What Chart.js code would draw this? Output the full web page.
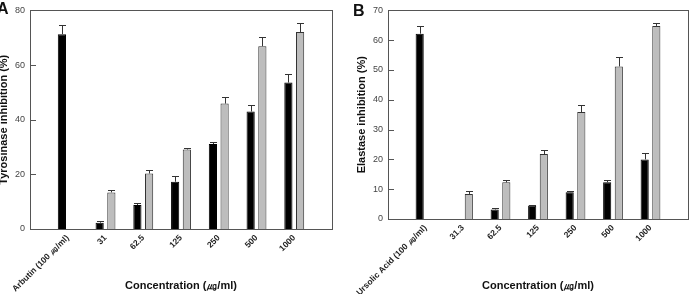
<!DOCTYPE html>
<html lang="en">
<head>
<meta charset="UTF-8">
<title>Inhibition charts</title>
<script src="https://cdn.jsdelivr.net/npm/chart.js"></script>
<style>
  body { margin:0; width:693px; height:294px; background:#fff; position:relative; overflow:hidden; }
  .panel { position:absolute; top:0; height:294px; }
  #wrapA { left:0; width:345px; }
  #wrapB { left:345px; width:348px; }
</style>
</head>
<body>
<div class="panel" id="wrapA"><canvas id="chartA"></canvas></div>
<div class="panel" id="wrapB"><canvas id="chartB"></canvas></div>
<script>
// panel A: tyrosinase
const catsA = ['Arbutin (100 \u338D/ml)', '31', '62.5', '125', '250', '500', '1000'];
const blackA = [71.3, 2.3, 8.8, 17.3, 31.1, 43.0, 53.6];
const blackErrA = [3.2, 0.5, 0.8, 2.1, 0.9, 2.4, 3.1];
const grayA = [null, 13.4, 20.3, 29.1, 45.9, 66.9, 72.1];
const grayErrA = [null, 0.9, 1.2, 0.7, 2.5, 3.2, 3.2];
const yTicksA = [0, 20, 40, 60, 80];

// panel B: elastase
const catsB = ['Ursolic Acid (100 \u338D/ml)', '31.3', '62.5', '125', '250', '500', '1000'];
const blackB = [62.2, null, 3.2, 4.5, 9.0, 12.3, 20.0];
const blackErrB = [2.4, null, 0.6, 0.3, 0.4, 0.8, 2.1];
const grayB = [null, 8.4, 12.3, 21.8, 35.9, 51.2, 64.8];
const grayErrB = [null, 1.1, 0.9, 1.5, 2.2, 3.3, 1.0];
const yTicksB = [0, 10, 20, 30, 40, 50, 60, 70];

const FONT = 'Arial, "Liberation Sans", sans-serif';
const pad = a => [null, ...a, null];   // empty slot at each end of the axis

const framePlugin = {
  id: 'frame',
  afterDatasetsDraw(chart) {
    const ctx = chart.ctx, ys = chart.scales.y;
    ctx.save();
    ctx.strokeStyle = '#333';
    ctx.lineWidth = 1;
    chart.data.datasets.forEach((ds, i) => {
      chart.getDatasetMeta(i).data.forEach((el, j) => {
        const v = ds.data[j], e = ds.errs[j];
        if (v == null || e == null) return;
        const x = Math.round(el.x) + 0.5;
        const top = Math.round(ys.getPixelForValue(v + e)) + 0.5;
        ctx.beginPath();
        ctx.moveTo(x, el.y);
        ctx.lineTo(x, top);
        ctx.moveTo(x - 3.5, top);
        ctx.lineTo(x + 3.5, top);
        ctx.stroke();
      });
    });
    ctx.restore();
  },
  afterDraw(chart, args, opts) {
    const ctx = chart.ctx, a = chart.chartArea, ys = chart.scales.y;
    ctx.save();
    ctx.strokeStyle = '#555';
    ctx.lineWidth = 1;
    ctx.strokeRect(Math.round(a.left) + 0.5, Math.round(a.top) + 0.5,
      Math.round(a.right - a.left), Math.round(a.bottom - a.top));
    // inward tick marks
    ys.ticks.forEach(t => {
      const y = Math.round(ys.getPixelForValue(t.value)) + 0.5;
      ctx.beginPath();
      ctx.moveTo(a.left, y);
      ctx.lineTo(a.left + 6, y);
      ctx.stroke();
    });
    ctx.fillStyle = '#111';
    ctx.font = 'bold 16px ' + FONT;
    ctx.textBaseline = 'top';
    ctx.fillText(opts.letter, opts.lx, opts.ly);
    ctx.restore();
  }
};

function makeChart(id, cats, black, blackErr, gray, grayErr, yMax, yStep, yTitle, yW, xH, padRight, titlePad, letter, lx, ly) {
  return new Chart(document.getElementById(id), {
    type: 'bar',
    data: {
      labels: ['', ...cats, ''],
      datasets: [
        { data: pad(black), errs: pad(blackErr), backgroundColor: '#000', borderColor: '#000', borderWidth: 1 },
        { data: pad(gray), errs: pad(grayErr), backgroundColor: '#bdbdbd', borderColor: '#333', borderWidth: 1 }
      ]
    },
    options: {
      responsive: true,
      maintainAspectRatio: false,
      animation: false,
      events: [],
      categoryPercentage: 0.62,
      barPercentage: 0.7,
      layout: { padding: { top: 6, right: padRight, left: 0, bottom: 0 } },
      plugins: {
        legend: { display: false },
        tooltip: { enabled: false },
        frame: { letter, lx, ly }
      },
      scales: {
        x: {
          offset: false,
          grid: { display: false, drawTicks: false, offset: false },
          border: { display: false },
          ticks: {
            autoSkip: false, minRotation: 45, maxRotation: 45, padding: 4,
            color: '#222', font: { family: FONT, size: 8.5, weight: 'bold' }
          },
          title: {
            display: true, text: 'Concentration (\u338D/ml)', color: '#111',
            font: { family: FONT, size: 11, weight: 'bold' }, padding: { top: 0, bottom: 1 }
          },
          afterFit: s => { s.height = xH; s.paddingLeft = 0; s.paddingRight = 0; }
        },
        y: {
          min: 0, max: yMax,
          grid: { display: false, drawTicks: false },
          border: { display: false },
          ticks: { stepSize: yStep, padding: 5, color: '#444', font: { family: FONT, size: 9 } },
          title: {
            display: true, text: yTitle, color: '#111',
            font: { family: FONT, size: 11, weight: 'bold' }, padding: { top: titlePad, bottom: 0 }
          },
          afterFit: s => { s.width = yW; }
        }
      }
    },
    plugins: [framePlugin]
  });
}

makeChart('chartA', catsA, blackA, blackErrA, grayA, grayErrA, yTicksA[yTicksA.length - 1], yTicksA[1] - yTicksA[0],
  'Tyrosinase inhibition (%)', 30, 65, 13, -3, 'A', -3, 2);
makeChart('chartB', catsB, blackB, blackErrB, grayB, grayErrB, yTicksB[yTicksB.length - 1], yTicksB[1] - yTicksB[0],
  'Elastase inhibition (%)', 43, 75, 5, 10, 'B', 8, 4);
</script>
</body>
</html>
